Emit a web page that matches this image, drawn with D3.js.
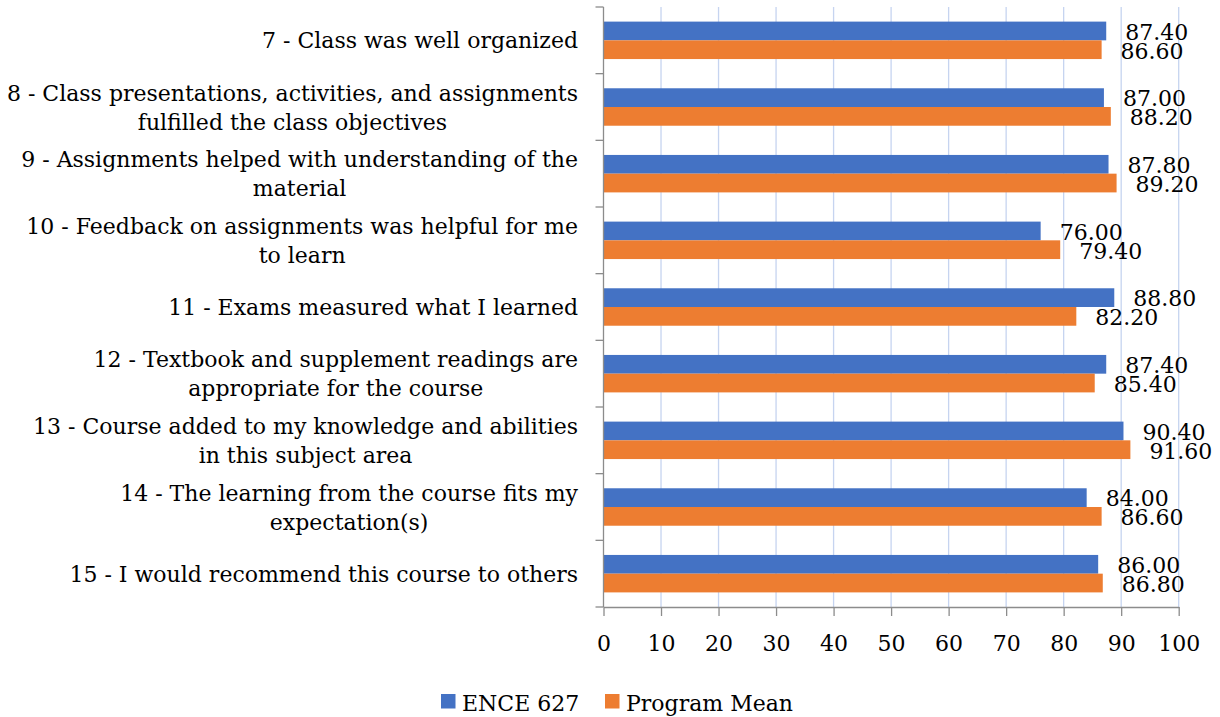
<!DOCTYPE html>
<html>
<head>
<meta charset="utf-8">
<script src="https://cdn.jsdelivr.net/npm/d3@7"></script>
<style>
  body { margin: 0; background: #fff; }
  text { font-family: "DejaVu Serif", serif; fill: #000; }
</style>
</head>
<body>
<svg id="chart"></svg>
<script>
let width = 1220;
let height = 717;

// survey questions (wrapped lines as in the original)
let categories = [
    ['7 - Class was well organized'],
    ['8 - Class presentations, activities, and assignments', 'fulfilled the class objectives'],
    ['9 - Assignments helped with understanding of the', 'material'],
    ['10 - Feedback on assignments was helpful for me', 'to learn'],
    ['11 - Exams measured what I learned'],
    ['12 - Textbook and supplement readings are', 'appropriate for the course'],
    ['13 - Course added to my knowledge and abilities', 'in this subject area'],
    ['14 - The learning from the course fits my', 'expectation(s)'],
    ['15 - I would recommend this course to others']
];
let seriesNames = ['ENCE 627', 'Program Mean'];
let course = [87.40, 87.00, 87.80, 76.00, 88.80, 87.40, 90.40, 84.00, 86.00];
let programMean = [86.60, 88.20, 89.20, 79.40, 82.20, 85.40, 91.60, 86.60, 86.80];
let xTicks = [0, 10, 20, 30, 40, 50, 60, 70, 80, 90, 100];

let colors = ['#4472c4', '#ed7d31'];

let svg = d3.select('#chart')
            .attr('width', width)
            .attr('height', height);

svg.append('rect').attr('width', width).attr('height', height).attr('fill', '#fff');

let plot = { left: 603.5, right: 1178.7, top: 7, bottom: 607 };

let x = d3.scaleLinear()
          .domain([0, 100])
          .range([plot.left, plot.right]);

let keys = categories.map((c, i) => i);
let y = d3.scaleBand()
          .domain(keys)
          .range([plot.top, plot.bottom])
          .padding(0);
let yInner = d3.scaleBand()
               .domain([0, 1])
               .range([0, y.bandwidth()])
               .paddingInner(0)
               .paddingOuter(0.78);

// gridlines
svg.append('g')
   .selectAll('line')
   .data(xTicks.filter(t => t > 0))
   .enter().append('line')
   .attr('x1', d => x(d)).attr('x2', d => x(d))
   .attr('y1', plot.top).attr('y2', plot.bottom)
   .attr('stroke', '#c6d4f0')
   .attr('stroke-width', 1.3);

let rows = keys.map(i => ({ i: i, vals: [course[i], programMean[i]] }));

let groups = svg.append('g')
                .selectAll('g')
                .data(rows)
                .enter().append('g')
                .attr('transform', d => `translate(0,${y(d.i)})`);

groups.selectAll('rect')
      .data(d => d.vals.map((v, s) => ({ v: v, s: s })))
      .enter().append('rect')
      .attr('x', x(0))
      .attr('y', d => yInner(d.s))
      .attr('width', d => x(d.v) - x(0))
      .attr('height', yInner.bandwidth())
      .attr('fill', d => colors[d.s]);

groups.selectAll('text.val')
      .data(d => d.vals.map((v, s) => ({ v: v, s: s })))
      .enter().append('text')
      .attr('class', 'val')
      .attr('x', d => x(d.v) + 19)
      .attr('y', d => yInner(d.s) + yInner.bandwidth() - 0.5)
      .attr('font-size', 22)
      .text(d => d.v.toFixed(2));

// left axis: line + ticks at band boundaries
let axisColor = '#8c8c8c';
svg.append('line')
   .attr('x1', plot.left).attr('x2', plot.left)
   .attr('y1', plot.top).attr('y2', plot.bottom)
   .attr('stroke', axisColor).attr('stroke-width', 1.3);
svg.append('g')
   .selectAll('line')
   .data(keys.concat([keys.length]))
   .enter().append('line')
   .attr('x1', plot.left - 8).attr('x2', plot.left)
   .attr('y1', d => plot.top + d * y.step())
   .attr('y2', d => plot.top + d * y.step())
   .attr('stroke', axisColor).attr('stroke-width', 1.3);

// category labels, wrapped and centred like Excel, block right edge at 578
let labelRight = 578;
let lineH = 29;
categories.forEach((lines, i) => {
    let g = svg.append('g');
    let cy = y(i) + y.bandwidth() / 2;
    let texts = lines.map((ln, j) => g.append('text')
        .attr('font-size', 22)
        .attr('y', cy + (j - (lines.length - 1) / 2) * lineH + 8)
        .text(ln));
    let maxW = d3.max(texts, t => t.node().getComputedTextLength());
    texts.forEach(t => t.attr('x', labelRight - maxW / 2).attr('text-anchor', 'middle'));
});

// bottom axis
let xAxis = svg.append('g')
   .attr('transform', `translate(0,${plot.bottom})`)
   .call(d3.axisBottom(x).tickValues(xTicks).tickSize(9).tickSizeOuter(0));
xAxis.select('.domain').attr('stroke', axisColor).attr('stroke-width', 1.3);
xAxis.selectAll('.tick line').attr('stroke', axisColor).attr('stroke-width', 1.3);
xAxis.selectAll('.tick text')
     .attr('font-family', '"DejaVu Serif", serif')
     .attr('font-size', 22)
     .attr('fill', '#000')
     .attr('dy', 0)
     .attr('y', 44);

// legend
let legend = svg.append('g');
let legendX = [441, 605];
seriesNames.forEach((name, s) => {
    legend.append('rect')
          .attr('x', legendX[s]).attr('y', 694)
          .attr('width', 14.5).attr('height', 14.5)
          .attr('fill', colors[s]);
    legend.append('text')
          .attr('x', legendX[s] + 21).attr('y', 711)
          .attr('font-size', 22)
          .text(name);
});
</script>
</body>
</html>
